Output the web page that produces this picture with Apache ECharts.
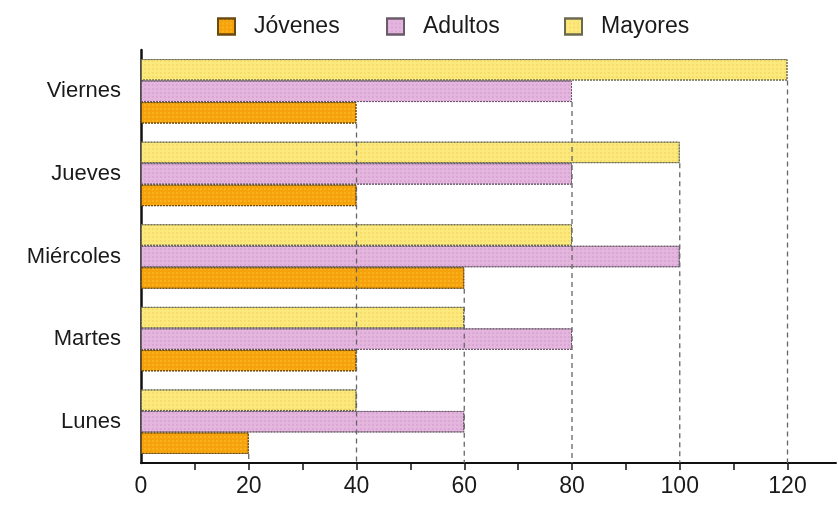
<!DOCTYPE html>
<html>
<head>
<meta charset="utf-8">
<script src="https://cdn.jsdelivr.net/npm/echarts@6/dist/echarts.min.js"></script>
<style>
html,body{margin:0;padding:0;background:#fff;}
#c{width:839px;height:507px;}
</style>
</head>
<body>
<div id="c"></div>
<script>
const categories = ['Lunes', 'Martes', 'Miércoles', 'Jueves', 'Viernes'];
const seriesNames = ['Jóvenes', 'Adultos', 'Mayores'];
const jovenes = [20, 40, 60, 40, 40];
const adultos = [60, 80, 100, 80, 80];
const mayores = [40, 60, 80, 100, 120];
const tickLabels = [0, 20, 40, 60, 80, 100, 120];
const tickMarks = [10, 20, 30, 40, 50, 60, 70, 80, 90, 100, 110, 120];

const BAR_W = 21.5;
const FONT = '"Liberation Sans", Arial, sans-serif';
const allSeries = [jovenes, adultos, mayores];

// guide lines: for each labelled value, drop a dashed line from the top-most bar reaching it
const guideData = [];
tickLabels.forEach(function (v) {
  if (v === 0) return;
  for (let c = categories.length - 1; c >= 0; c--) {
    let found = -1;
    for (let s = allSeries.length - 1; s >= 0; s--) {
      if (allSeries[s][c] === v) { found = s; break; }
    }
    if (found >= 0) { guideData.push([v, c, found]); return; }
  }
});

const styles = [
  { color: '#F6A20C', borderColor: '#6b4a10', decal: 'rgba(255,210,60,0.35)' },
  { color: '#E4B6DE', borderColor: '#6a5a6a', decal: 'rgba(200,140,200,0.35)' },
  { color: '#FCE97C', borderColor: '#6a6a50', decal: 'rgba(240,200,80,0.35)' }
];

const barSeries = allSeries.map(function (arr, i) {
  return {
    name: seriesNames[i],
    type: 'bar',
    data: arr,
    barWidth: BAR_W,
    barGap: '0%',
    itemStyle: {
      color: styles[i].color,
      borderColor: styles[i].borderColor,
      borderWidth: 1,
      borderType: [2, 1],
      decal: {
        symbol: 'rect',
        symbolSize: 1,
        dashArrayX: [2, 2],
        dashArrayY: [2, 2],
        color: styles[i].decal
      }
    },
    emphasis: { disabled: true },
    animation: false
  };
});
// ECharts stacks the first bar series on top for horizontal bars; reverse so Jóvenes is at the bottom
const orderedBars = barSeries.slice().reverse();

const legendLefts = [212, 381, 559];
const legends = seriesNames.map(function (n, i) {
  return {
    data: [n],
    left: legendLefts[i],
    top: 10,
    itemWidth: 17,
    itemHeight: 16,
    itemGap: 0,
    icon: 'rect',
    selectedMode: false,
    textStyle: {
      fontFamily: FONT,
      fontSize: 23,
      color: '#1a1a1a',
      padding: [0, 0, 0, 14]
    }
  };
});

const option = {
  backgroundColor: '#ffffff',
  animation: false,
  legend: legends,
  grid: { left: 141, right: 0, top: 50, bottom: 44, containLabel: false },
  xAxis: {
    type: 'value',
    min: 0,
    max: 129,
    interval: 10,
    axisLine: { show: true, lineStyle: { color: '#111', width: 2 } },
    axisTick: { show: true, length: 7, customValues: tickMarks, lineStyle: { color: '#111', width: 1.5 } },
    axisLabel: {
      margin: 12,
      fontFamily: FONT,
      fontSize: 23,
      color: '#1a1a1a',
      formatter: function (v) {
        return tickLabels.indexOf(v) >= 0 ? String(v) : '';
      }
    },
    splitLine: { show: false }
  },
  yAxis: {
    type: 'category',
    data: categories,
    axisLine: { show: true, lineStyle: { color: '#111', width: 2.5 } },
    axisTick: { show: false },
    axisLabel: {
      margin: 20,
      fontFamily: FONT,
      fontSize: 22,
      color: '#1a1a1a'
    }
  },
  series: orderedBars.concat([{
    type: 'custom',
    name: 'guides',
    data: guideData,
    encode: { x: 0, y: 1 },
    z: 5,
    silent: true,
    renderItem: function (params, api) {
      const v = api.value(0), c = api.value(1), s = api.value(2);
      const pt = api.coord([v, c]);
      const yb = pt[1] + (1 - s) * BAR_W + BAR_W / 2;
      const cs = params.coordSys;
      return {
        type: 'line',
        shape: { x1: pt[0], y1: yb, x2: pt[0], y2: cs.y + cs.height },
        style: { stroke: '#666', lineWidth: 1.3, lineDash: [5, 4] }
      };
    }
  }])
};

const chart = echarts.init(document.getElementById('c'), null, { renderer: 'canvas' });
chart.setOption(option);
</script>
</body>
</html>
